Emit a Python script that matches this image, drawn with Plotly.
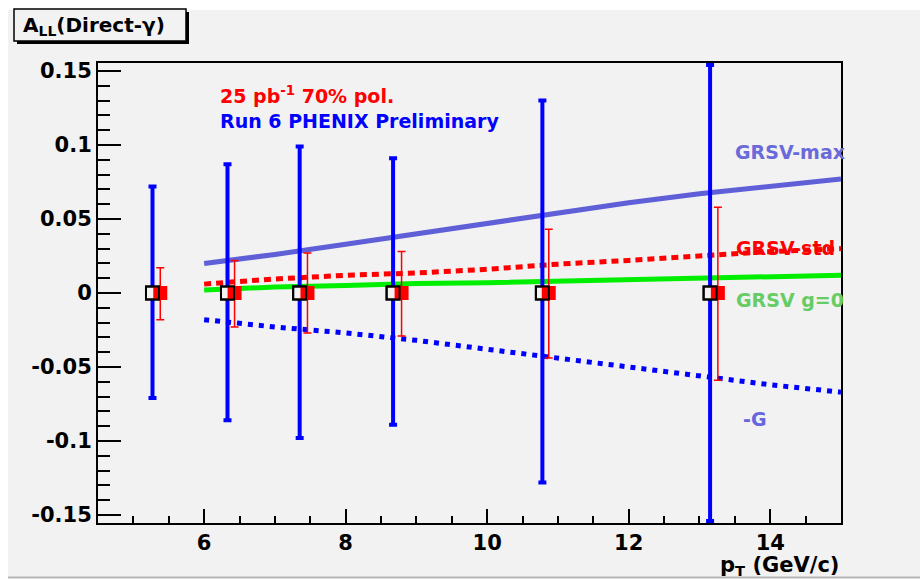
import plotly.graph_objects as go

# ---------------- data ----------------
pt_run6 = [5.27, 6.33, 7.35, 8.67, 10.78, 13.15]
all_run6 = [0.0, 0.0, 0.0, 0.0, 0.0, 0.0]
err_run6_up = [0.072, 0.087, 0.099, 0.091, 0.130, 0.154]
err_run6_dn = [0.071, 0.086, 0.098, 0.089, 0.128, 0.154]

pt_proj = [5.38, 6.43, 7.46, 8.79, 10.87, 13.26]
all_proj = [0.0, 0.0, 0.0, 0.0, 0.0, 0.0]
err_proj_up = [0.017, 0.022, 0.027, 0.028, 0.043, 0.058]
err_proj_dn = [0.018, 0.023, 0.027, 0.029, 0.044, 0.059]

pt_theory = [6, 7, 8, 9, 10, 11, 12, 13, 14, 15]
grsv_max = [0.020, 0.026, 0.033, 0.040, 0.047, 0.054, 0.061, 0.067, 0.072, 0.077]
grsv_std = [0.006, 0.0095, 0.012, 0.0135, 0.016, 0.0195, 0.022, 0.025, 0.028, 0.030]
grsv_g0 = [0.002, 0.004, 0.005, 0.0065, 0.007, 0.008, 0.0095, 0.0105, 0.011, 0.012]
minus_g = [-0.018, -0.023, -0.027, -0.032, -0.038, -0.044, -0.050, -0.056, -0.062, -0.067]

x_range = [4.5, 15]
y_range = [-0.1554, 0.1554]

# ---------------- layout helpers ----------------
W, H = 920, 579
L, R, T, B = 98, 841, 63, 523
FONT = "DejaVu Sans"
BG = "#f2f2f2"


def px(x):
    return (x - L) / (R - L)


def py(y):
    return (B - y) / (B - T)


fig = go.Figure()

# theory curves
fig.add_trace(go.Scatter(x=pt_theory, y=grsv_max, mode="lines",
                         line=dict(color="#5f5fd8", width=5), hoverinfo="skip"))
fig.add_trace(go.Scatter(x=pt_theory, y=grsv_std, mode="lines",
                         line=dict(color="#ff0000", width=5, dash="7px,5px"), hoverinfo="skip"))
fig.add_trace(go.Scatter(x=pt_theory, y=grsv_g0, mode="lines",
                         line=dict(color="#00ee00", width=5), hoverinfo="skip"))
fig.add_trace(go.Scatter(x=pt_theory, y=minus_g, mode="lines",
                         line=dict(color="#0000ff", width=5, dash="5px,6px"), hoverinfo="skip"))

# Run 6 points (blue errors, open squares with background fill)
fig.add_trace(go.Scatter(
    x=pt_run6, y=all_run6, mode="markers",
    marker=dict(symbol="square", size=13, color=BG, line=dict(color="black", width=2)),
    error_y=dict(type="data", symmetric=False, array=err_run6_up, arrayminus=err_run6_dn,
                 color="#0000ff", thickness=4, width=4)))

# projection points (red)
fig.add_trace(go.Scatter(
    x=pt_proj, y=all_proj, mode="markers",
    marker=dict(symbol="square", size=14, color="#ff0000", line=dict(width=0)),
    error_y=dict(type="data", symmetric=False, array=err_proj_up, arrayminus=err_proj_dn,
                 color="#ff0000", thickness=1.5, width=4)))

# open square outlines on top
fig.add_trace(go.Scatter(
    x=pt_run6, y=all_run6, mode="markers",
    marker=dict(symbol="square-open", size=13, color="black", line=dict(color="black", width=2))))

fig.add_hline(y=0, line=dict(color="#333333", width=1.5, dash="5px,4px"), layer="below")

shapes = [
    dict(type="rect", xref="paper", yref="paper", x0=px(8), x1=px(920), y0=py(577), y1=py(10),
         fillcolor=BG, line=dict(width=0), layer="below"),
    dict(type="line", xref="paper", yref="paper", x0=px(8), x1=px(920), y0=py(577.5), y1=py(577.5),
         line=dict(color="#b5b5b5", width=2)),
    dict(type="rect", xref="paper", yref="paper", x0=px(17), x1=px(189), y0=py(44), y1=py(12),
         fillcolor="black", line=dict(width=0)),
    dict(type="rect", xref="paper", yref="paper", x0=px(14), x1=px(186), y0=py(41), y1=py(9),
         fillcolor=BG, line=dict(color="black", width=1.5)),
]
for s in shapes:
    fig.add_shape(**s)

ann = [
    dict(text="<b>A<sub>LL</sub>(Direct-γ)</b>", x=px(21), y=py(26), xref="paper", yref="paper",
         xanchor="left", yanchor="middle", font=dict(size=20, color="black")),
    dict(text="<b>25 pb<sup>-1</sup> 70% pol.</b>", x=6.19, y=0.1335, xref="x", yref="y",
         xanchor="left", yanchor="middle", font=dict(size=19, color="#ff0000")),
    dict(text="<b>Run 6 PHENIX Preliminary</b>", x=6.19, y=0.1165, xref="x", yref="y",
         xanchor="left", yanchor="middle", font=dict(size=19, color="#0000ff")),
    dict(text="<b>GRSV-max</b>", x=13.48, y=0.095, xref="x", yref="y",
         xanchor="left", yanchor="middle", font=dict(size=19, color="#6a6ad8")),
    dict(text="<b>GRSV-std</b>", x=13.49, y=0.0304, xref="x", yref="y",
         xanchor="left", yanchor="middle", font=dict(size=19, color="#ff0000")),
    dict(text="<b>GRSV g=0</b>", x=13.49, y=-0.0047, xref="x", yref="y",
         xanchor="left", yanchor="middle", font=dict(size=19, color="#66cc66")),
    dict(text="<b>-G</b>", x=13.58, y=-0.085, xref="x", yref="y",
         xanchor="left", yanchor="middle", font=dict(size=19, color="#6666dd")),
    dict(text="<b>p<sub>T</sub> (GeV/c)</b>", x=1.0, y=py(566), xref="paper", yref="paper",
         xanchor="right", yanchor="middle", font=dict(size=21, color="black")),
]
for a in ann:
    fig.add_annotation(showarrow=False, **a)

fig.update_layout(
    template="none",
    width=W, height=H,
    margin=dict(l=L, r=W - R, t=T, b=H - B, pad=0, autoexpand=False),
    paper_bgcolor="white", plot_bgcolor=BG,
    showlegend=False,
    font=dict(family=FONT, color="black"),
)
fig.update_xaxes(
    range=x_range, showgrid=False, zeroline=False, automargin=False,
    showline=True, linecolor="black", linewidth=2, mirror=True,
    ticks="inside", ticklen=14, tickwidth=1.5, tickcolor="black",
    tickmode="linear", tick0=0, dtick=2,
    minor=dict(ticks="inside", ticklen=7, tickwidth=1.5, tickcolor="black", dtick=0.5, tick0=0, showgrid=False),
    tickfont=dict(family=FONT, size=21, color="black", weight="bold"),
)
fig.update_yaxes(
    range=y_range, showgrid=False, zeroline=False, automargin=False,
    showline=True, linecolor="black", linewidth=2, mirror=True,
    ticks="inside", ticklen=23, tickwidth=1.5, tickcolor="black",
    tickmode="array", tickvals=[-0.15, -0.1, -0.05, 0, 0.05, 0.1, 0.15],
    ticktext=["-0.15", "-0.1", "-0.05", "0", "0.05", "0.1", "0.15"],
    minor=dict(ticks="inside", ticklen=12, tickwidth=1.5, tickcolor="black", dtick=0.01, tick0=0, showgrid=False),
    tickfont=dict(family=FONT, size=21, color="black", weight="bold"),
)

fig.write_html("out.html")
